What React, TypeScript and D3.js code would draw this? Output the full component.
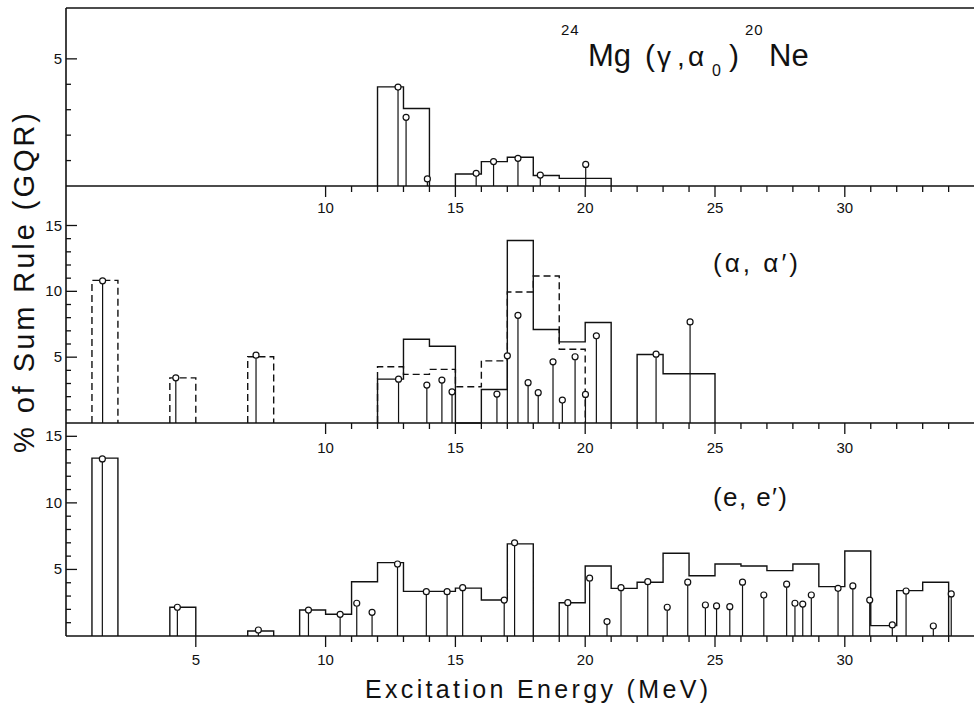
import React from "react";
import * as d3 from "d3";

// ---------- DATA ----------
// Energy axis (MeV)
const energyDomain = [0, 35];
const xLabelsTop = [10, 15, 20, 25, 30];
const xLabelsMid = [10, 15, 20, 25, 30];
const xLabelsBot = [5, 10, 15, 20, 25, 30];

// Panel 1: 24Mg(γ,α0)20Ne  — 1 MeV bins
const gammaBinStart = [12, 13, 15, 16, 17, 18, 19, 20];
const gammaBinValue = [3.9, 3.05, 0.47, 0.96, 1.13, 0.41, 0.3, 0.3];
const gammaStemE = [12.79, 13.1, 13.92, 15.8, 16.47, 17.41, 18.27, 20.02];
const gammaStemS = [3.89, 2.7, 0.28, 0.5, 0.96, 1.09, 0.43, 0.85];
const gammaYLabels = [5];
const gammaYMinor = [1, 2, 3, 4];

// Panel 2: (α,α') — solid and dashed histograms
const alphaSolidStart = [12, 13, 14, 15, 16, 17, 18, 19, 20, 22, 23, 24];
const alphaSolidValue = [3.33, 6.36, 5.83, 0, 2.55, 13.86, 7.1, 6.16, 7.63, 5.2, 3.74, 3.74];
const alphaDashStart = [1, 4, 7, 12, 13, 14, 15, 16, 17, 18, 19];
const alphaDashValue = [10.83, 3.43, 5.03, 4.27, 3.69, 4.07, 2.75, 4.72, 9.95, 11.16, 5.6];
const alphaStemE = [1.41, 4.23, 7.32, 12.81, 13.9, 14.48, 14.87, 16.6, 17.0, 17.41, 17.8, 18.19, 18.76, 19.12, 19.61, 20.01, 20.43, 22.73, 24.04];
const alphaStemS = [10.8, 3.43, 5.15, 3.33, 2.88, 3.26, 2.37, 2.2, 5.1, 8.18, 3.06, 2.3, 4.65, 1.74, 5.03, 2.17, 6.62, 5.23, 7.68];
const alphaYLabels = [5, 10, 15];

// Panel 3: (e,e')
const eBinStart = [1, 4, 7, 9, 10, 11, 12, 13, 14, 15, 16, 17, 19, 20, 21, 22, 23, 24, 25, 26, 27, 28, 29, 30, 31, 32, 33];
const eBinValue = [13.36, 2.16, 0.38, 1.95, 1.63, 4.08, 5.51, 3.35, 3.35, 3.6, 2.7, 6.92, 2.5, 5.26, 3.58, 4.04, 6.22, 4.53, 5.41, 5.26, 4.91, 5.41, 3.71, 6.39, 0.78, 3.41, 4.04];
const eStemE = [1.4, 4.29, 7.41, 9.34, 10.56, 11.2, 11.79, 12.77, 13.88, 14.68, 15.28, 16.88, 17.28, 19.33, 20.17, 20.84, 21.38, 22.41, 23.16, 23.95, 24.63, 25.06, 25.57, 26.06, 26.88, 27.76, 28.08, 28.38, 28.71, 29.74, 30.31, 30.96, 31.83, 32.36, 33.41, 34.1];
const eStemS = [13.3, 2.16, 0.45, 1.95, 1.63, 2.46, 1.78, 5.41, 3.33, 3.33, 3.63, 2.7, 7.0, 2.5, 4.34, 1.08, 3.63, 4.08, 2.16, 4.04, 2.33, 2.26, 2.2, 4.04, 3.08, 3.89, 2.46, 2.4, 3.08, 3.58, 3.76, 2.7, 0.83, 3.38, 0.75, 3.16];
const eYLabels = [5, 10, 15];

const yAxisTitle = "% of Sum Rule (GQR)";
const xAxisTitle = "Excitation Energy (MeV)";

// ---------- LAYOUT ----------
const W = 974;
const H = 706;
const FONT = "'Liberation Sans', Arial, sans-serif";
const INK = "#111";

const x = d3.scaleLinear().domain(energyDomain).range([66, 974.6]);
const yTop = d3.scaleLinear().domain([0, 7]).range([186, 8]);
const yMid = d3.scaleLinear().domain([0, 18]).range([423, 186]);
const yBot = d3.scaleLinear().domain([0, 16]).range([636, 423]);

function stepPath(starts: number[], values: number[], ys: d3.ScaleLinear<number, number>) {
  const p = d3.path();
  let i = 0;
  while (i < starts.length) {
    const s = starts[i];
    p.moveTo(x(s), ys(0));
    p.lineTo(x(s), ys(values[i]));
    p.lineTo(x(s + 1), ys(values[i]));
    let j = i + 1;
    while (j < starts.length && starts[j] === starts[j - 1] + 1) {
      p.lineTo(x(starts[j]), ys(values[j]));
      p.lineTo(x(starts[j] + 1), ys(values[j]));
      j++;
    }
    p.lineTo(x(starts[j - 1] + 1), ys(0));
    i = j;
  }
  return p.toString();
}

function Stems({ es, ss, ys }: { es: number[]; ss: number[]; ys: d3.ScaleLinear<number, number> }) {
  const r = 3;
  return (
    <g>
      {es.map((e, i) => (
        <g key={i}>
          <line x1={x(e)} x2={x(e)} y1={ys(0)} y2={ys(ss[i]) + r} stroke={INK} strokeWidth={1.2} />
          <circle cx={x(e)} cy={ys(ss[i])} r={r} fill="#fff" stroke={INK} strokeWidth={1.2} />
        </g>
      ))}
    </g>
  );
}

function XTicks({ ys, ticks, labels, labelY }: { ys: d3.ScaleLinear<number, number>; ticks: number[]; labels: number[]; labelY: number }) {
  const y0 = ys(0);
  return (
    <g>
      {ticks.map((t) => (
        <line key={t} x1={x(t)} x2={x(t)} y1={y0} y2={y0 + (t % 5 === 0 ? 11 : 6)} stroke={INK} strokeWidth={1.3} />
      ))}
      {labels.map((t) => (
        <text key={"l" + t} x={x(t)} y={labelY} textAnchor="middle" fontSize={15} fontFamily={FONT} fill={INK}>
          {t}
        </text>
      ))}
    </g>
  );
}

function YTicks({ ys, minor, labels }: { ys: d3.ScaleLinear<number, number>; minor: number[]; labels: number[] }) {
  return (
    <g>
      {minor.map((t) => (
        <line key={t} x1={66} x2={66 + (labels.includes(t) ? 11 : 5)} y1={ys(t)} y2={ys(t)} stroke={INK} strokeWidth={1.3} />
      ))}
      {labels.map((t) => (
        <text key={"l" + t} x={62} y={ys(t) + 5} textAnchor="end" fontSize={15} fontFamily={FONT} fill={INK}>
          {t}
        </text>
      ))}
    </g>
  );
}

export default function App() {
  const ticksUpper = d3.range(10, 35);
  const ticksBottom = [5, ...d3.range(10, 35)];
  const minor15 = d3.range(1, 16);
  return (
    <svg width={W} height={H} style={{ position: "absolute", left: 0, top: 0, background: "#fff" }}>
      <rect x={0} y={0} width={W} height={H} fill="#fff" />
      {/* frame */}
      <line x1={66} x2={66} y1={8} y2={636} stroke={INK} strokeWidth={1.6} />
      <line x1={66} x2={W} y1={8} y2={8} stroke={INK} strokeWidth={1.6} />
      <line x1={66} x2={W} y1={yTop(0)} y2={yTop(0)} stroke={INK} strokeWidth={1.6} />
      <line x1={66} x2={W} y1={yMid(0)} y2={yMid(0)} stroke={INK} strokeWidth={1.6} />
      <line x1={66} x2={W} y1={yBot(0)} y2={yBot(0)} stroke={INK} strokeWidth={1.6} />

      {/* ticks */}
      <YTicks ys={yTop} minor={[...gammaYMinor, ...gammaYLabels]} labels={gammaYLabels} />
      <YTicks ys={yMid} minor={minor15} labels={alphaYLabels} />
      <YTicks ys={yBot} minor={minor15} labels={eYLabels} />
      <XTicks ys={yTop} ticks={ticksUpper} labels={xLabelsTop} labelY={213} />
      <XTicks ys={yMid} ticks={ticksUpper} labels={xLabelsMid} labelY={453} />
      <XTicks ys={yBot} ticks={ticksBottom} labels={xLabelsBot} labelY={665} />

      {/* panel 1 */}
      <path d={stepPath(gammaBinStart, gammaBinValue, yTop)} fill="none" stroke={INK} strokeWidth={1.4} />
      <Stems es={gammaStemE} ss={gammaStemS} ys={yTop} />

      {/* panel 2 */}
      <path d={stepPath(alphaDashStart, alphaDashValue, yMid)} fill="none" stroke={INK} strokeWidth={1.4} strokeDasharray="7,4" />
      <path d={stepPath(alphaSolidStart, alphaSolidValue, yMid)} fill="none" stroke={INK} strokeWidth={1.4} />
      <Stems es={alphaStemE} ss={alphaStemS} ys={yMid} />

      {/* panel 3 */}
      <path d={stepPath(eBinStart, eBinValue, yBot)} fill="none" stroke={INK} strokeWidth={1.4} />
      <Stems es={eStemE} ss={eStemS} ys={yBot} />

      {/* titles */}
      <g fontFamily={FONT} fill={INK}>
        <text x={561} y={35} fontSize={15} letterSpacing={1}>24</text>
        <text x={588} y={66} fontSize={31}>Mg</text>
        <text x={645} y={66} fontSize={30}>(</text>
        <text x={657} y={66} fontSize={28}>γ</text>
        <text x={677} y={66} fontSize={28}>,</text>
        <text x={688} y={66} fontSize={28}>α</text>
        <text x={712} y={76} fontSize={16}>0</text>
        <text x={729} y={66} fontSize={30}>)</text>
        <text x={745} y={35} fontSize={15} letterSpacing={1}>20</text>
        <text x={769} y={66} fontSize={31}>Ne</text>

        <text x={713} y={272} fontSize={26} textLength={85} lengthAdjust="spacing">(α, α′)</text>
        <text x={713} y={506} fontSize={26} textLength={74} lengthAdjust="spacing">(e, e′)</text>

        <text x={365} y={698} fontSize={25} textLength={343} lengthAdjust="spacing">{xAxisTitle}</text>
        <text
          transform={`translate(34, 283) rotate(-90)`}
          x={0}
          y={0}
          textAnchor="middle"
          fontSize={29}
          textLength={340}
          lengthAdjust="spacing"
        >
          {yAxisTitle}
        </text>
      </g>
    </svg>
  );
}
